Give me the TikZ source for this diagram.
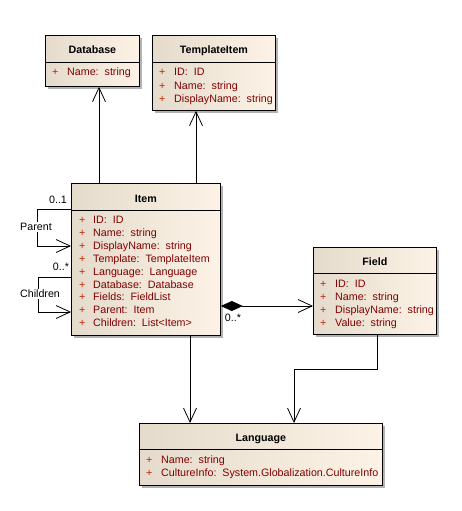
\documentclass[tikz,border=0pt]{standalone}
\usepackage{fontspec}
\setmainfont{Liberation Sans}
\usetikzlibrary{arrows.meta,shadows}
\definecolor{umlleft}{RGB}{229,219,204}
\definecolor{umlright}{RGB}{252,243,230}
\definecolor{attrred}{RGB}{128,0,0}
\definecolor{plusred}{RGB}{190,40,0}
\newcommand{\umlfont}{\fontsize{10.7}{13}\selectfont}

\begin{document}
\begin{tikzpicture}[x=1pt, y=-1pt, font=\umlfont,
  umlclass/.style={draw, line width=0.8pt, anchor=north west, inner sep=0pt,
    left color=umlleft, right color=umlright,
    drop shadow={shadow xshift=3pt, shadow yshift=-3pt, fill=black!30, opacity=1}},
  umltitle/.style={anchor=base, inner sep=0pt, font=\umlfont\bfseries},
  umlattr/.style={anchor=base west, inner sep=0pt, text=attrred},
  umlplus/.style={anchor=base west, inner sep=0pt, text=plusred},
  umllabel/.style={inner sep=1pt, fill=white},
  assoc/.style={line width=0.8pt, -{Straight Barb[length=14pt,width=13pt,line width=0.8pt]}},
  compose/.style={line width=0.8pt, {Diamond[length=22pt,width=10pt]}-{Straight Barb[length=14pt,width=13pt,line width=0.8pt]}}]
  \useasboundingbox (0,0) rectangle (461,511);

  % Database
  \node[umlclass, minimum width=94pt, minimum height=51pt] (db) at (45,35) {};
  \node[umltitle] at ([yshift=-19pt]db.north) {Database};
  \draw[line width=0.8pt] ([yshift=-27pt]db.north west) -- ([yshift=-27pt]db.north east);
  \foreach \a [count=\i from 0] in {Name:\ \ string} {
    \node[umlplus] at ([xshift=7pt, yshift={-40.5pt-\i*13pt}]db.north west) {+};
    \node[umlattr] at ([xshift=22pt, yshift={-40.5pt-\i*13pt}]db.north west) {\a};
  }

  % TemplateItem
  \node[umlclass, minimum width=123pt, minimum height=75pt] (tmpl) at (152,35) {};
  \node[umltitle] at ([yshift=-19pt]tmpl.north) {TemplateItem};
  \draw[line width=0.8pt] ([yshift=-27pt]tmpl.north west) -- ([yshift=-27pt]tmpl.north east);
  \foreach \a [count=\i from 0] in {ID:\ \ ID, Name:\ \ string, DisplayName:\ \ string} {
    \node[umlplus] at ([xshift=7pt, yshift={-40.5pt-\i*13.5pt}]tmpl.north west) {+};
    \node[umlattr] at ([xshift=22pt, yshift={-40.5pt-\i*13.5pt}]tmpl.north west) {\a};
  }

  % Item
  \node[umlclass, minimum width=149pt, minimum height=152pt] (item) at (71,183) {};
  \node[umltitle] at ([yshift=-19pt]item.north) {Item};
  \draw[line width=0.8pt] ([yshift=-27pt]item.north west) -- ([yshift=-27pt]item.north east);
  \foreach \a [count=\i from 0] in {ID:\ \ ID, Name:\ \ string, DisplayName:\ \ string,
      Template:\ \ TemplateItem, Language:\ \ Language, Database:\ \ Database,
      Fields:\ \ FieldList, Parent:\ \ Item, Children:\ \ List<Item>} {
    \node[umlplus] at ([xshift=8pt, yshift={-40.5pt-\i*12.9pt}]item.north west) {+};
    \node[umlattr] at ([xshift=22pt, yshift={-40.5pt-\i*12.9pt}]item.north west) {\a};
  }

  % Field
  \node[umlclass, minimum width=123pt, minimum height=87pt] (field) at (313,247) {};
  \node[umltitle] at ([yshift=-18pt]field.north) {Field};
  \draw[line width=0.8pt] ([yshift=-26pt]field.north west) -- ([yshift=-26pt]field.north east);
  \foreach \a [count=\i from 0] in {ID:\ \ ID, Name:\ \ string, DisplayName:\ \ string, Value:\ \ string} {
    \node[umlplus] at ([xshift=7pt, yshift={-40pt-\i*13.3pt}]field.north west) {+};
    \node[umlattr] at ([xshift=22pt, yshift={-40pt-\i*13.3pt}]field.north west) {\a};
  }

  % Language
  \node[umlclass, minimum width=243pt, minimum height=62pt] (lang) at (139,423) {};
  \node[umltitle] at ([yshift=-18pt]lang.north) {Language};
  \draw[line width=0.8pt] ([yshift=-26pt]lang.north west) -- ([yshift=-26pt]lang.north east);
  \foreach \a [count=\i from 0] in {Name:\ \ string, CultureInfo:\ \ System.Globalization.CultureInfo} {
    \node[umlplus] at ([xshift=7pt, yshift={-40pt-\i*13.5pt}]lang.north west) {+};
    \node[umlattr] at ([xshift=22pt, yshift={-40pt-\i*13.5pt}]lang.north west) {\a};
  }

  % associations
  \draw[assoc] ([xshift=28pt]item.north west) -- ([xshift=28pt]item.north west |- db.south);
  \draw[assoc] ([xshift=125pt]item.north west) -- ([xshift=125pt]item.north west |- tmpl.south);
  \draw[assoc] ([xshift=119pt]item.south west) -- ([xshift=119pt]item.south west |- lang.north);
  \draw[assoc] ([xshift=64pt]field.south west) -- ++(0,35) -| ([xshift=155pt]lang.north west);
  \draw[compose] ([yshift=-123pt]item.north east) -- ([yshift=-123pt]item.north east -| field.west);

  % self references
  \draw[assoc] ([yshift=-26pt]item.north west) -- ++(-34,0) |- ([yshift=-63pt]item.north west);
  \draw[assoc] ([yshift=-94pt]item.north west) -- ++(-33,0) |- ([yshift=-129pt]item.north west);
  \node[umllabel] at (36,227) {Parent};
  \node[umllabel] at (40,294) {Children};
  \node[inner sep=0pt] at (58,200) {0..1};
  \node[inner sep=0pt] at (61,267) {0..*};
  \node[inner sep=0pt] at (233,318) {0..*};
\end{tikzpicture}
\end{document}
